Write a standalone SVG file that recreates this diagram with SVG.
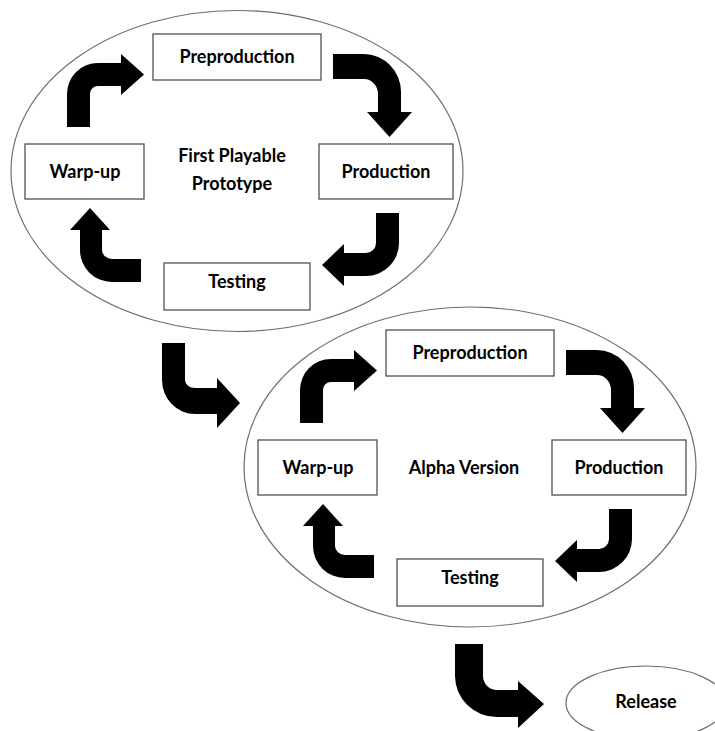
<svg xmlns="http://www.w3.org/2000/svg" width="715" height="731" viewBox="0 0 715 731">
<style>
.bg{fill:#ffffff}
.ell{fill:#ffffff;stroke:#6e6e6e;stroke-width:1.2}
.box{fill:#ffffff;stroke:#505050;stroke-width:1.3}
.lbl{font-family:Lato,"Open Sans","Liberation Sans",sans-serif;font-weight:700;font-size:18px;fill:#000000;text-anchor:middle}
.arr{fill:#000000;stroke:none}
</style>
<defs>
<g id="cycleArrows">
<path class="arr" d="M67,127 L67,94 A31,31 0 0 1 98,63 L121,63 L121,54 L144,74.5 L121,95 L121,86 L98,86 A8,8 0 0 0 90,94 L90,127 Z"/>
<path class="arr" d="M333,54 L364,54 A37,38 0 0 1 401,92 L401,112 L412,112 L389.5,137 L367,112 L378,112 L378,94 A14,15 0 0 0 364,79 L333,79 Z"/>
<path class="arr" d="M376,213 L399,213 L399,243 A33,33 0 0 1 366,276 L344,276 L344,286 L322,265 L344,244 L344,253 L366,253 A10,10 0 0 0 376,243 Z"/>
<path class="arr" d="M141,259 L112,259 A10,9 0 0 1 102,250 L102,230 L110,230 L90,208 L70,230 L80,230 L80,250 A32,32 0 0 0 112,282 L141,282 Z"/>
</g>
</defs>
<rect class="bg" x="0" y="0" width="715" height="731"/>

<g id="cluster-first-playable">
<ellipse class="ell" cx="237" cy="171" rx="226" ry="160.5"/>
<text class="lbl" x="232" y="162">First Playable</text>
<text class="lbl" x="232" y="190">Prototype</text>
</g>
<g id="cluster-alpha">
<ellipse class="ell" cx="470" cy="467" rx="226" ry="160"/>
<text class="lbl" x="464" y="474">Alpha Version</text>
</g>

<g id="fp-preproduction"><rect class="box" x="153" y="34" width="168" height="46"/><text class="lbl" x="237" y="63">Preproduction</text></g>
<g id="fp-production"><rect class="box" x="319" y="144" width="134" height="55"/><text class="lbl" x="386" y="178">Production</text></g>
<g id="fp-testing"><rect class="box" x="164" y="263" width="146" height="47"/><text class="lbl" x="237" y="288">Testing</text></g>
<g id="fp-warpup"><rect class="box" x="25" y="144" width="119" height="55"/><text class="lbl" x="85" y="178">Warp-up</text></g>

<g id="av-preproduction"><rect class="box" x="386" y="330" width="168" height="46"/><text class="lbl" x="470" y="359">Preproduction</text></g>
<g id="av-production"><rect class="box" x="552" y="440" width="134" height="55"/><text class="lbl" x="619" y="474">Production</text></g>
<g id="av-testing"><rect class="box" x="397" y="559" width="146" height="47"/><text class="lbl" x="470" y="584">Testing</text></g>
<g id="av-warpup"><rect class="box" x="258" y="440" width="119" height="55"/><text class="lbl" x="318" y="474">Warp-up</text></g>

<g id="release"><ellipse class="ell" cx="646" cy="703" rx="80" ry="37"/><text class="lbl" x="646" y="708">Release</text></g>

<g id="connectors">
<use href="#cycleArrows"/>
<use href="#cycleArrows" transform="translate(233,296)"/>
<path class="arr" d="M162,343 L185,343 L185,380 A10,8 0 0 0 195,388 L217,388 L217,378 L240,403 L217,428 L217,414 L195,414 A33,34 0 0 1 162,380 Z"/>
<path class="arr" d="M455,644 L483,644 L483,676 A14,14 0 0 0 497,690 L518,690 L518,681 L544,704 L518,728 L518,717 L497,717 A42,41 0 0 1 455,676 Z"/>
</g>
</svg>
